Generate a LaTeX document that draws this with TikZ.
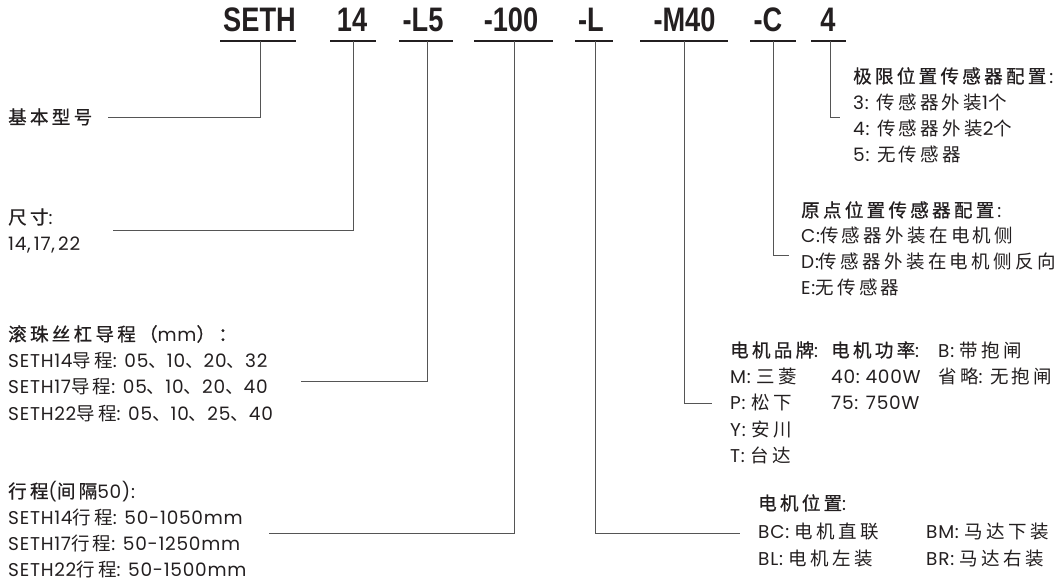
\documentclass[tikz,border=0pt]{standalone}
\usepackage{fontspec}
\setmainfont{Poppins}[LetterSpace=4,Numbers=Monospaced]
\newfontfamily\cjkf{Noto Sans CJK SC}[LetterSpace=18]
\newfontfamily\cjkb{Noto Sans CJK SC}[LetterSpace=18,FakeBold=0.8]
\newfontfamily\hdrf{Liberation Sans}[FakeStretch=0.8]
\newcommand\CN[1]{{\cjkf #1}}
\newcommand\CB[1]{{\cjkb #1}}
\definecolor{ink}{HTML}{231F20}
\definecolor{leadc}{HTML}{555555}
\begin{document}
\begin{tikzpicture}[x=1pt,y=-1pt,
  txt/.style={anchor=base west, inner sep=0pt, text=ink, font=\fontsize{18.5}{20}\selectfont},
  code/.style={anchor=base, inner sep=0pt, text=ink, font=\hdrf\bfseries\fontsize{34}{36}\selectfont},
  uline/.style={draw=ink, line width=2.2pt},
  lead/.style={draw=leadc, line width=1pt}]
\useasboundingbox (0,0) rectangle (1059,582);

% header codes
\node[code] (hSETH) at (259.5,31) {SETH};
\node[code] (h14)   at (352,31) {14};
\node[code] (hL5)   at (423,31) {-L5};
\node[code] (h100)  at (511,31) {-100};
\node[code] (hL)    at (591,31) {-L};
\node[code] (hM40)  at (684.5,31) {-M40};
\node[code] (hC)    at (768,31) {-C};
\node[code] (h4)    at (828,31) {4};

% underlines
\draw[uline] (220,41) -- (296,41);
\draw[uline] (330,41) -- (376,41);
\draw[uline] (399,41) -- (453,41);
\draw[uline] (474,41) -- (553,41);
\draw[uline] (575,41) -- (613,41);
\draw[uline] (640,41) -- (728,41);
\draw[uline] (750,41) -- (796,41);
\draw[uline] (811,41) -- (846,41);

% left labels
\node[txt] (base) at (8,124) {\CB{基本型号}};
\node[txt] (size0) at (8,224) {\CB{尺寸}:};
\node[txt] (size1) at (8,250) {14,\,17,\,22};
\node[txt] (lead0) at (8,341) {\CB{滚珠丝杠导程（}mm\CB{）：}};
\node[txt] (lead1) at (8,367) {SETH14\CN{导程}: 05\CN{、}10\CN{、}20\CN{、}32};
\node[txt] (lead2) at (8,393) {SETH17\CN{导程}: 05\CN{、}10\CN{、}20\CN{、}40};
\node[txt] (lead3) at (8,420) {SETH22\CN{导程}: 05\CN{、}10\CN{、}25\CN{、}40};
\node[txt] (str0) at (8,498) {\CB{行程}(\CB{间隔}50):};
\node[txt] (str1) at (8,524) {SETH14\CN{行程}: 50-1050mm};
\node[txt] (str2) at (8,550) {SETH17\CN{行程}: 50-1250mm};
\node[txt] (str3) at (8,576) {SETH22\CN{行程}: 50-1500mm};

% right labels
\node[txt] (lim0) at (853,83)  {\CB{极限位置传感器配置}\,:};
\node[txt] (lim1) at (853,109) {3: \CN{传感器外装}1\CN{个}};
\node[txt] (lim2) at (853,135) {4: \CN{传感器外装}2\CN{个}};
\node[txt] (lim3) at (853,161) {5: \CN{无传感器}};

\node[txt] (org0) at (801,217) {\CB{原点位置传感器配置}\,:};
\node[txt] (org1) at (801,242) {C:\CN{传感器外装在电机侧}};
\node[txt] (org2) at (801,268) {D:\CN{传感器外装在电机侧反向}};
\node[txt] (org3) at (801,294) {E:\CN{无传感器}};

\node[txt] (mb0) at (730,357) {\CB{电机品牌}:};
\node[txt] (mb1) at (730,383) {M: \CN{三菱}};
\node[txt] (mb2) at (730,409) {P: \CN{松下}};
\node[txt] (mb3) at (730,436) {Y: \CN{安川}};
\node[txt] (mb4) at (730,462) {T: \CN{台达}};
\node[txt] (mp0) at (831,357) {\CB{电机功率}:};
\node[txt] (mp1) at (831,383) {40:\ 400W};
\node[txt] (mp2) at (831,409) {75: 750W};
\node[txt] (bk0) at (938,357) {B: \CN{带抱闸}};
\node[txt] (bk1) at (938,383) {\CN{省略}: \CN{无抱闸}};

\node[txt] (pos0) at (758,510) {\CB{电机位置}:};
\node[txt] (pos1) at (758,538) {BC: \CN{电机直联}};
\node[txt] (pos2) at (758,565) {BL: \CN{电机左装}};
\node[txt] (pos3) at (926,538) {BM: \CN{马达下装}};
\node[txt] (pos4) at (926,565) {BR: \CN{马达右装}};

% connector ends
\coordinate (tSETH) at (260,41);  \coordinate (eSETH) at (108,117);
\coordinate (t14)   at (353,41);  \coordinate (e14)   at (113,230);
\coordinate (tL5)   at (427,41);  \coordinate (eL5)   at (301,381);
\coordinate (t100)  at (514,41);  \coordinate (e100)  at (269,533);
\coordinate (tL)    at (595,41);  \coordinate (eL)    at (740,533);
\coordinate (tM40)  at (684,41);  \coordinate (eM40)  at (712,403);
\coordinate (tC)    at (773,41);  \coordinate (eC)    at (789,255);
\coordinate (t4)    at (830,41);  \coordinate (e4)    at (840,117);

\draw[lead] (tSETH) |- (eSETH);
\draw[lead] (t14) |- (e14);
\draw[lead] (tL5) |- (eL5);
\draw[lead] (t100) |- (e100);
\draw[lead] (tL) |- (eL);
\draw[lead] (tM40) |- (eM40);
\draw[lead] (tC) |- (eC);
\draw[lead] (t4) |- (e4);
\end{tikzpicture}
\end{document}
